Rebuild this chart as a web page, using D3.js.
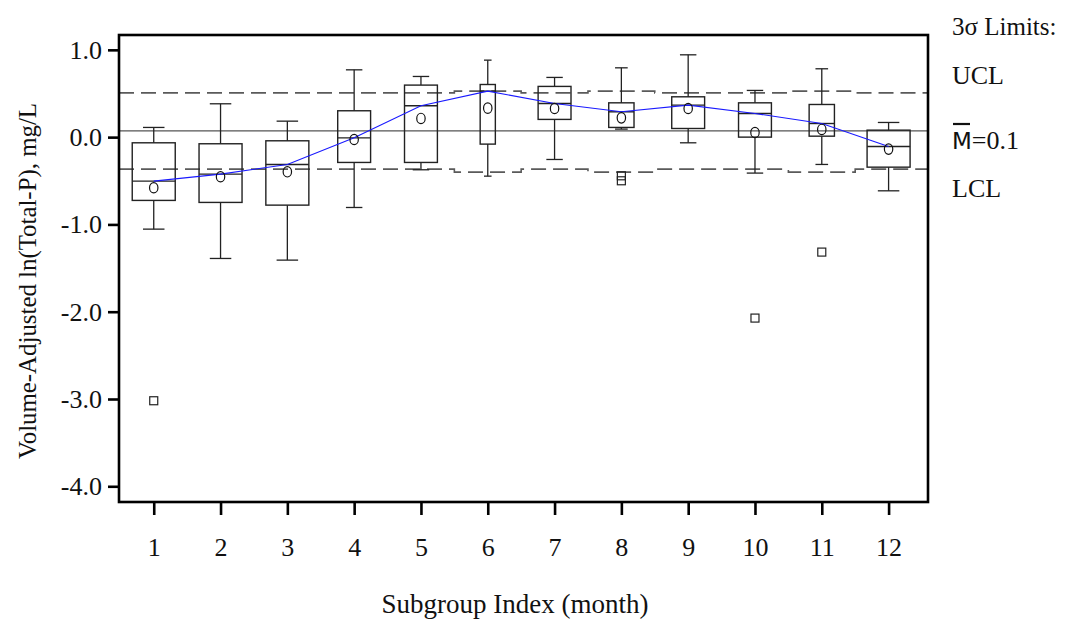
<!DOCTYPE html>
<html>
<head>
<meta charset="utf-8">
<script src="https://cdn.jsdelivr.net/npm/d3@7"></script>
<style>
  html, body { margin: 0; padding: 0; background: #fff; }
  svg { display: block; }
  text { font-family: "Liberation Serif", "DejaVu Serif", serif; fill: #111; }
</style>
</head>
<body>
<svg id="chart" width="1066" height="625"></svg>
<script>
// Monthly subgroups of volume-adjusted ln(Total-P)
const months      = [1, 2, 3, 4, 5, 6, 7, 8, 9, 10, 11, 12];
const whiskerHigh = [0.111, 0.382, 0.183, 0.771, 0.695, 0.882, 0.684, 0.794, 0.943, 0.535, 0.783, 0.168];
const q3          = [-0.065, -0.076, -0.042, 0.302, 0.596, 0.603, 0.581, 0.393, 0.462, 0.393, 0.374, 0.080];
const medians     = [-0.504, -0.424, -0.313, -0.008, 0.359, 0.527, 0.386, 0.290, 0.367, 0.271, 0.156, -0.107];
const q1          = [-0.725, -0.748, -0.779, -0.290, -0.290, -0.080, 0.203, 0.111, 0.099, 0.000, 0.011, -0.344];
const whiskerLow  = [-1.054, -1.390, -1.409, -0.806, -0.374, -0.447, -0.256, 0.092, -0.065, -0.412, -0.313, -0.615];
const means       = [-0.580, -0.454, -0.397, -0.027, 0.214, 0.332, 0.328, 0.221, 0.328, 0.053, 0.088, -0.137];
const obsCount    = [17, 17, 17, 13, 13, 6, 13, 10, 13, 13, 10, 17];
const outlierMonth = [1, 8, 8, 10, 11];
const outlierValue = [-3.02, -0.443, -0.500, -2.073, -1.317];
// 3-sigma control limits per subgroup and the grand centre line
const centerLine  = 0.072;
const ucl         = [0.507, 0.507, 0.507, 0.507, 0.507, 0.527, 0.507, 0.527, 0.507, 0.507, 0.527, 0.507];
const lcl         = [-0.367, -0.367, -0.367, -0.367, -0.367, -0.401, -0.367, -0.401, -0.367, -0.367, -0.401, -0.367];
const yTicks      = [1, 0, -1, -2, -3, -4];
const limitLabels = ["3σ Limits:", "UCL", "=0.1", "LCL"];

const SERIF = '"Liberation Serif", "DejaVu Serif", serif';
const svg = d3.select("#chart");
const frame = { left: 119, right: 928, top: 35, bottom: 502 };

const x = d3.scaleLinear().domain([0.48, 12.59]).range([frame.left, frame.right]);
const y = d3.scaleLinear().domain([-4.18, 1.17]).range([frame.bottom, frame.top]);
const boxWidth = d3.scaleLinear().domain([0, 17]).range([0, 43]);

const plot = svg.append("g");

// Centre line
plot.append("line")
  .attr("x1", frame.left).attr("x2", frame.right)
  .attr("y1", y(centerLine)).attr("y2", y(centerLine))
  .attr("stroke", "#555").attr("stroke-width", 1.2);

// Stepped control limits (each subgroup spans half-way to its neighbours)
function limitPoints(vals) {
  const pts = months.map((m, i) => [i === 0 ? x.domain()[0] : m - 0.5, vals[i]]);
  pts.push([x.domain()[1], vals[vals.length - 1]]);
  return pts;
}
const stepLine = d3.line().x(d => x(d[0])).y(d => y(d[1])).curve(d3.curveStepAfter);
[ucl, lcl].forEach(vals => {
  plot.append("path")
    .attr("d", stepLine(limitPoints(vals)))
    .attr("fill", "none")
    .attr("stroke", "#5a5a5a")
    .attr("stroke-width", 1.6)
    .attr("stroke-dasharray", "15,7");
});

// Box plots
const boxes = plot.selectAll("g.box").data(months).join("g").attr("class", "box");
boxes.each(function(m, i) {
  const g = d3.select(this);
  const cx = x(m);
  const w = boxWidth(obsCount[i]);
  // whiskers
  g.append("line").attr("x1", cx).attr("x2", cx)
    .attr("y1", y(whiskerHigh[i])).attr("y2", y(q3[i]))
    .attr("stroke", "#222").attr("stroke-width", 1.3);
  g.append("line").attr("x1", cx).attr("x2", cx)
    .attr("y1", y(q1[i])).attr("y2", y(whiskerLow[i]))
    .attr("stroke", "#222").attr("stroke-width", 1.3);
  [whiskerHigh[i], whiskerLow[i]].forEach(v => {
    g.append("line").attr("x1", cx - w / 4).attr("x2", cx + w / 4)
      .attr("y1", y(v)).attr("y2", y(v))
      .attr("stroke", "#222").attr("stroke-width", 1.3);
  });
  // box
  g.append("rect")
    .attr("x", cx - w / 2).attr("width", w)
    .attr("y", y(q3[i])).attr("height", y(q1[i]) - y(q3[i]))
    .attr("fill", "none").attr("stroke", "#222").attr("stroke-width", 1.4);
  // median
  g.append("line").attr("x1", cx - w / 2).attr("x2", cx + w / 2)
    .attr("y1", y(medians[i])).attr("y2", y(medians[i]))
    .attr("stroke", "#222").attr("stroke-width", 1.4);
});

// Median trend line
plot.append("path")
  .datum(months.map((m, i) => [m, medians[i]]))
  .attr("d", d3.line().x(d => x(d[0])).y(d => y(d[1])))
  .attr("fill", "none").attr("stroke", "#1a1aff").attr("stroke-width", 1.1);

// Means
plot.selectAll("ellipse.mean").data(months).join("ellipse")
  .attr("class", "mean")
  .attr("cx", m => x(m)).attr("cy", (m, i) => y(means[i]))
  .attr("rx", 4.2).attr("ry", 5.2)
  .attr("fill", "none").attr("stroke", "#111").attr("stroke-width", 1.2);

// Outliers
plot.selectAll("rect.outlier").data(outlierMonth).join("rect")
  .attr("class", "outlier")
  .attr("x", m => x(m) - 4).attr("y", (m, i) => y(outlierValue[i]) - 4)
  .attr("width", 8).attr("height", 8)
  .attr("fill", "none").attr("stroke", "#222").attr("stroke-width", 1.2);

// Frame
svg.append("rect")
  .attr("x", frame.left).attr("y", frame.top)
  .attr("width", frame.right - frame.left).attr("height", frame.bottom - frame.top)
  .attr("fill", "none").attr("stroke", "#000").attr("stroke-width", 2.6);

// Axes
const yAxis = svg.append("g")
  .attr("transform", `translate(${frame.left},0)`)
  .call(d3.axisLeft(y).tickValues(yTicks).tickSize(11).tickPadding(6).tickFormat(d => d.toFixed(1)));
const xAxis = svg.append("g")
  .attr("transform", `translate(0,${frame.bottom})`)
  .call(d3.axisBottom(x).tickValues(months).tickSize(13).tickPadding(23).tickFormat(d => String(d)));
[yAxis, xAxis].forEach(a => {
  a.attr("font-family", SERIF).attr("font-size", 26);
  a.select(".domain").remove();
  a.selectAll(".tick line").attr("stroke", "#000").attr("stroke-width", 2.6);
  a.selectAll(".tick text").attr("fill", "#111")
    .style("font-family", SERIF).style("font-size", "26px");
});

// Axis titles
svg.append("text")
  .attr("x", 515).attr("y", 613)
  .attr("text-anchor", "middle")
  .style("font-size", "27px")
  .text("Subgroup Index (month)");
svg.append("text")
  .attr("transform", "translate(36,281) rotate(-90)")
  .attr("text-anchor", "middle")
  .attr("textLength", 356).attr("lengthAdjust", "spacingAndGlyphs")
  .style("font-size", "26px")
  .text("Volume-Adjusted ln(Total-P), mg/L");

// Limit legend on the right
const lx = 952;
svg.append("text").attr("x", lx).attr("y", 35).style("font-size", "25px").text(limitLabels[0]);
svg.append("text").attr("x", lx).attr("y", 84).style("font-size", "26px").text(limitLabels[1]);
const mLabel = svg.append("text").attr("x", lx).attr("y", 149).style("font-size", "26px");
mLabel.append("tspan").style("font-family", '"DejaVu Sans", sans-serif').style("font-size", "23px").text("M");
mLabel.append("tspan").text(limitLabels[2]);
svg.append("line").attr("x1", lx + 1).attr("x2", lx + 18).attr("y1", 124).attr("y2", 124)
  .attr("stroke", "#111").attr("stroke-width", 2.2);
svg.append("text").attr("x", lx).attr("y", 197).style("font-size", "26px").text(limitLabels[3]);
</script>
</body>
</html>
